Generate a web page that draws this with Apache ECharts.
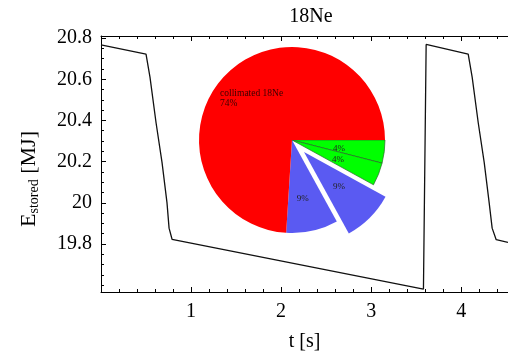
<!doctype html>
<html lang="en">
<head>
<meta charset="UTF-8"/>
<title>18Ne</title>
<script src="https://cdn.jsdelivr.net/npm/echarts@6/dist/echarts.min.js"></script>
<style>
  body { margin: 0; background: #fff; }
  #main { width: 508px; height: 353px; }
</style>
</head>
<body>
<div id="main"></div>
<script type="text/javascript">
// stored energy vs time
var tVals = [0, 0.5, 0.544, 0.611, 0.678, 0.733, 0.756, 0.789, 3.581, 3.611, 4.078, 4.122, 4.189, 4.256, 4.311, 4.344, 4.389, 4.52];
var eVals = [20.767, 20.722, 20.61, 20.39, 20.195, 20.0, 19.877, 19.823, 19.581, 20.769, 20.722, 20.61, 20.39, 20.195, 20.0, 19.877, 19.821, 19.808];

var xLabels = [1, 2, 3, 4];
var yLabels = [19.8, 20, 20.2, 20.4, 20.6, 20.8];
var xMinor = [0.2, 0.4, 0.6, 0.8, 1.2, 1.4, 1.6, 1.8, 2.2, 2.4, 2.6, 2.8, 3.2, 3.4, 3.6, 3.8, 4.2, 4.4];
var yMinor = [19.6, 19.65, 19.7, 19.75, 19.85, 19.9, 19.95, 20.05, 20.1, 20.15, 20.25, 20.3, 20.35, 20.45, 20.5, 20.55, 20.65, 20.7, 20.75];

// loss budget pie
var pieNames = ['a', 'b', 'c', 'd', 'collimated 18Ne'];
var pieValues = [4, 4, 9, 9, 74];
var pieColors = ['#00ff00', '#00ff00', '#5a5af2', '#5a5af2', '#ff0000'];

var serif = 'Liberation Serif';
var myChart = echarts.init(document.getElementById('main'));

var lineData = [];
for (var i = 0; i < tVals.length; i++) lineData.push([tVals[i], eVals[i]]);

// label nudges so they sit where the original puts them
var labelOffsets = [[-2, 2], [0, 1], [6, 5], [0, 10], [-6, -5]];

var pieData = [];
for (var j = 0; j < pieValues.length; j++) {
  var item = {
    name: pieNames[j],
    value: pieValues[j],
    itemStyle: { color: pieColors[j] },
    label: { offset: labelOffsets[j] }
  };
  if (j < 2) { item.itemStyle.borderColor = '#2a6a2a'; item.itemStyle.borderWidth = 0.7; }
  if (j == 2) item.selected = true;
  pieData.push(item);
}

function xAx(pos, vals, len, showLine, labels) {
  return {
    type: 'value', position: pos, min: 0, max: 4.52,
    axisLine: { show: showLine, onZero: false, lineStyle: { color: '#000', width: 1 } },
    axisTick: { show: true, inside: true, length: len, customValues: vals, lineStyle: { color: '#000' } },
    axisLabel: labels ? { customValues: xLabels, margin: 10, fontFamily: serif, fontSize: 20, color: '#000' } : { show: false },
    splitLine: { show: false }
  };
}
function yAx(vals, len, showLine, labels) {
  return {
    type: 'value', position: 'left', min: 19.567, max: 20.81,
    axisLine: { show: showLine, onZero: false, lineStyle: { color: '#000', width: 1 } },
    axisTick: { show: true, inside: true, length: len, customValues: vals, lineStyle: { color: '#000' } },
    axisLabel: labels ? { customValues: yLabels, margin: 9, fontFamily: serif, fontSize: 20, color: '#000' } : { show: false },
    splitLine: { show: false }
  };
}

var bottomX = xAx('bottom', xLabels, 5, true, true);
bottomX.name = 't [s]';
bottomX.nameLocation = 'middle';
bottomX.nameGap = 40;
bottomX.nameTextStyle = { fontFamily: serif, fontSize: 20, color: '#000' };

var leftY = yAx(yLabels, 5, true, true);
leftY.name = '{e|E}{s|stored}{e| [MJ]}';
leftY.nameLocation = 'middle';
leftY.nameGap = 60;
leftY.nameTextStyle = {
  color: '#000',
  padding: [0, 30, 0, 0],
  rich: {
    e: { fontFamily: serif, fontSize: 22, color: '#000' },
    s: { fontFamily: serif, fontSize: 14, color: '#000', verticalAlign: 'bottom', padding: [9, 0, 0, 0] }
  }
};

option = {
  animation: false,
  backgroundColor: '#fff',
  title: {
    text: '18Ne', left: 306, top: 2, textAlign: 'center',
    textStyle: { fontFamily: serif, fontSize: 20, fontWeight: 'normal', color: '#000' }
  },
  grid: { left: 101, top: 36, width: 407, height: 256, outerBoundsMode: 'none' },
  xAxis: [
    bottomX,
    xAx('bottom', xMinor, 3, false, false),
    xAx('top', xLabels, 5, true, false),
    xAx('top', xMinor, 3, false, false)
  ],
  yAxis: [
    leftY,
    yAx(yMinor, 3, false, false)
  ],
  series: [
    {
      type: 'line', data: lineData, symbol: 'none', silent: true,
      lineStyle: { color: '#111', width: 1.3 }
    },
    {
      type: 'pie', center: [292, 140], radius: 93, startAngle: 0, clockwise: true,
      selectedMode: 'single', selectedOffset: 17, silent: true,
      label: {
        position: 'inside', fontFamily: serif, fontSize: 9, color: '#222',
        formatter: function (p) {
          return p.dataIndex == 4 ? '{a|' + p.name + '}\n{a|' + p.value + '%}' : p.value + '%';
        },
        rich: { a: { width: 64, align: 'left', fontFamily: serif, fontSize: 9.5, color: '#3a0000' } }
      },
      labelLine: { show: false },
      data: pieData
    }
  ]
};

myChart.setOption(option);
</script>
</body>
</html>
